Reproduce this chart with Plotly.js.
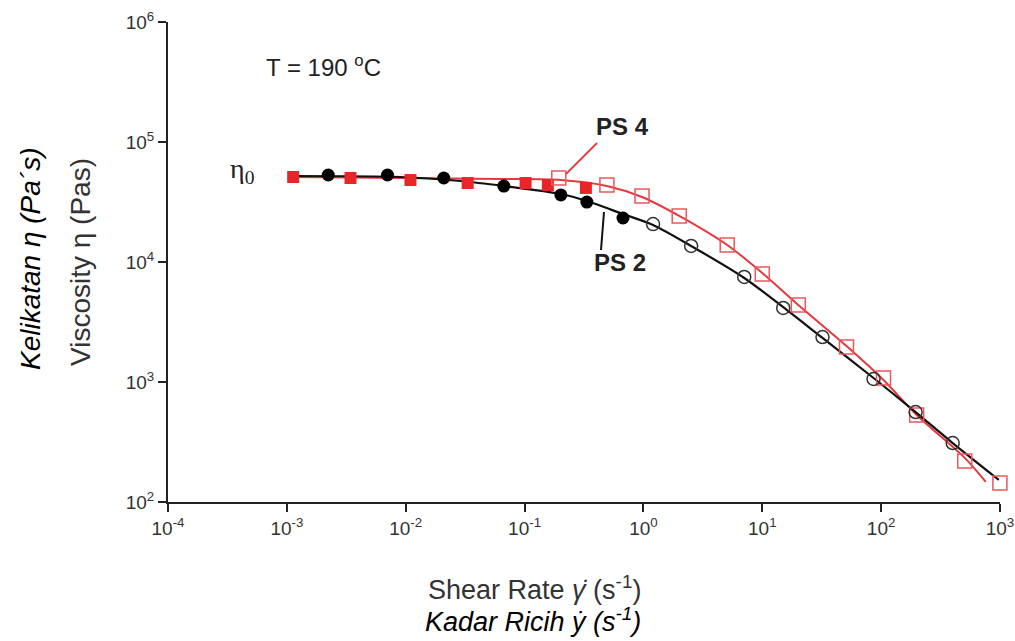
<!DOCTYPE html>
<html>
<head>
<meta charset="utf-8">
<script src="https://cdn.plot.ly/plotly-3.0.1.min.js"></script>
<style>
  html, body { margin: 0; padding: 0; background: #fff; }
  #chart { width: 1015px; height: 641px; }
</style>
</head>
<body>
<div id="chart"></div>
<script>
// ---- Data (shear rate in 1/s, viscosity in Pa·s) ----
const ps4FilledX = [0.00113, 0.00343, 0.01096, 0.0332, 0.102, 0.157, 0.328];
const ps4FilledY = [51100, 50100, 48200, 45500, 45500, 43800, 41400];
const ps4OpenX = [0.194, 0.493, 0.973, 2.0, 5.07, 10.0, 20.1, 51.1, 104.7, 199, 505, 998];
const ps4OpenY = [50100, 43800, 35500, 24200, 13850, 7940, 4380, 1960, 1080, 531, 220, 144];

const ps2FilledX = [0.00223, 0.00703, 0.0209, 0.0669, 0.202, 0.334, 0.673];
const ps2FilledY = [53100, 53100, 50100, 42960, 36200, 31600, 23260];
const ps2OpenX = [1.205, 2.52, 7.05, 15.0, 32.1, 86.3, 195, 400];
const ps2OpenY = [20700, 13600, 7500, 4140, 2370, 1060, 562, 310];

// fitted curves
const ps4FitX = [0.00113, 0.00904, 0.0630, 0.202, 0.493, 0.973, 2.0, 5.07, 10.0, 20.1, 51.1, 104.7, 199, 505, 759];
const ps4FitY = [51100, 50100, 49200, 48200, 43000, 34800, 24200, 13850, 8100, 4380, 1995, 1040, 531, 233, 147];
const ps2FitX = [0.00113, 0.00904, 0.0290, 0.0669, 0.202, 0.334, 0.673, 1.205, 2.52, 7.05, 15.0, 32.1, 86.3, 195, 400, 977];
const ps2FitY = [52100, 51100, 47300, 42960, 36900, 32250, 25100, 20350, 13600, 7360, 4210, 2330, 1080, 562, 310, 153];

const xTickVals = [1e-4, 1e-3, 1e-2, 1e-1, 1e0, 1e1, 1e2, 1e3];
const xTickText = ['10<sup>-4</sup>', '10<sup>-3</sup>', '10<sup>-2</sup>', '10<sup>-1</sup>', '10<sup>0</sup>', '10<sup>1</sup>', '10<sup>2</sup>', '10<sup>3</sup>'];
const yTickVals = [1e2, 1e3, 1e4, 1e5, 1e6];
const yTickText = ['10<sup>2</sup>', '10<sup>3</sup>', '10<sup>4</sup>', '10<sup>5</sup>', '10<sup>6</sup>'];

const RED = '#e8262a';
const RED_LINE = '#e5393d';
const RED_OPEN = '#e8585c';
const BLACK = '#111111';
const FONT = 'Liberation Sans, Arial, Helvetica, sans-serif';

// plot area geometry (pixels) for paper-coordinate annotations
const L = 168, R = 15, T = 22, B = 139, W = 1015, H = 641;
const PW = W - L - R, PH = H - T - B;
const px = x => (x - L) / PW;
const py = y => (H - B - y) / PH;

const traces = [
  { x: ps4FitX, y: ps4FitY, mode: 'lines', line: { color: RED_LINE, width: 2, shape: 'spline', smoothing: 0.8 }, cliponaxis: false, hoverinfo: 'skip' },
  { x: ps2FitX, y: ps2FitY, mode: 'lines', line: { color: BLACK, width: 2.2, shape: 'spline', smoothing: 0.8 }, cliponaxis: false, hoverinfo: 'skip' },
  { x: ps4FilledX, y: ps4FilledY, mode: 'markers', cliponaxis: false, marker: { symbol: 'square', size: 12, color: RED } },
  { x: ps2FilledX, y: ps2FilledY, mode: 'markers', cliponaxis: false, marker: { symbol: 'circle', size: 13, color: '#000' } },
  { x: ps4OpenX, y: ps4OpenY, mode: 'markers', cliponaxis: false, marker: { symbol: 'square-open', size: 14, color: RED_OPEN, line: { width: 1.5, color: RED_OPEN } } },
  { x: ps2OpenX, y: ps2OpenY, mode: 'markers', cliponaxis: false, marker: { symbol: 'circle-open', size: 13, color: '#333', line: { width: 1.5, color: '#333' } } }
];

function ann(x, y, text, size, extra) {
  return Object.assign({
    xref: 'paper', yref: 'paper', x: px(x), y: py(y), text: text,
    xanchor: 'center', yanchor: 'middle', showarrow: false,
    font: { family: FONT, size: size, color: '#222' }
  }, extra || {});
}

const layout = {
  width: W, height: H,
  margin: { l: L, r: R, t: T, b: B, pad: 0 },
  paper_bgcolor: '#fff', plot_bgcolor: '#fff',
  showlegend: false,
  font: { family: FONT, color: '#333' },
  xaxis: {
    type: 'log', range: [-4, 3],
    tickvals: xTickVals, ticktext: xTickText,
    ticks: 'outside', ticklen: 8, tickwidth: 2, tickcolor: '#222',
    showline: true, linecolor: '#222', linewidth: 2,
    showgrid: false, zeroline: false,
    tickfont: { family: FONT, size: 19, color: '#333' }
  },
  yaxis: {
    type: 'log', range: [2, 6],
    tickvals: yTickVals, ticktext: yTickText,
    ticks: 'outside', ticklen: 8, tickwidth: 2, tickcolor: '#222',
    showline: true, linecolor: '#222', linewidth: 2,
    showgrid: false, zeroline: false,
    tickfont: { family: FONT, size: 19, color: '#333' }
  },
  shapes: [
    { type: 'line', xref: 'paper', yref: 'paper', x0: px(597), y0: py(143), x1: px(566), y1: py(174), line: { color: RED_LINE, width: 1.8 } },
    { type: 'line', xref: 'paper', yref: 'paper', x0: px(604), y0: py(212), x1: px(601), y1: py(250), line: { color: BLACK, width: 2 } }
  ],
  annotations: [
    ann(622, 126, '<b>PS 4</b>', 24),
    ann(620, 262, '<b>PS 2</b>', 24),
    ann(242, 170, 'η<sub>0</sub>', 28, { font: { family: 'Liberation Serif, Times New Roman, serif', size: 28, color: '#222' } }),
    ann(323, 66, 'T = 190 <sup>o</sup>C', 24),
    ann(534, 588, 'Shear Rate <i>γ̇</i> (s<sup>-1</sup>)', 27, { font: { family: FONT, size: 27, color: '#333' } }),
    ann(533, 620, '<i>Kadar Ricih ẏ (s<sup>-1</sup>)</i>', 27, { font: { family: FONT, size: 27, color: '#000' } }),
    ann(80, 262, 'Viscosity η (Pas)', 28, { textangle: -90, font: { family: FONT, size: 28, color: '#333' } }),
    ann(30, 259, '<i>Kelikatan η (Pa´s)</i>', 28, { textangle: -90, font: { family: FONT, size: 28, color: '#000' } })
  ]
};

Plotly.newPlot('chart', traces, layout, { staticPlot: true, displayModeBar: false });
</script>
</body>
</html>
